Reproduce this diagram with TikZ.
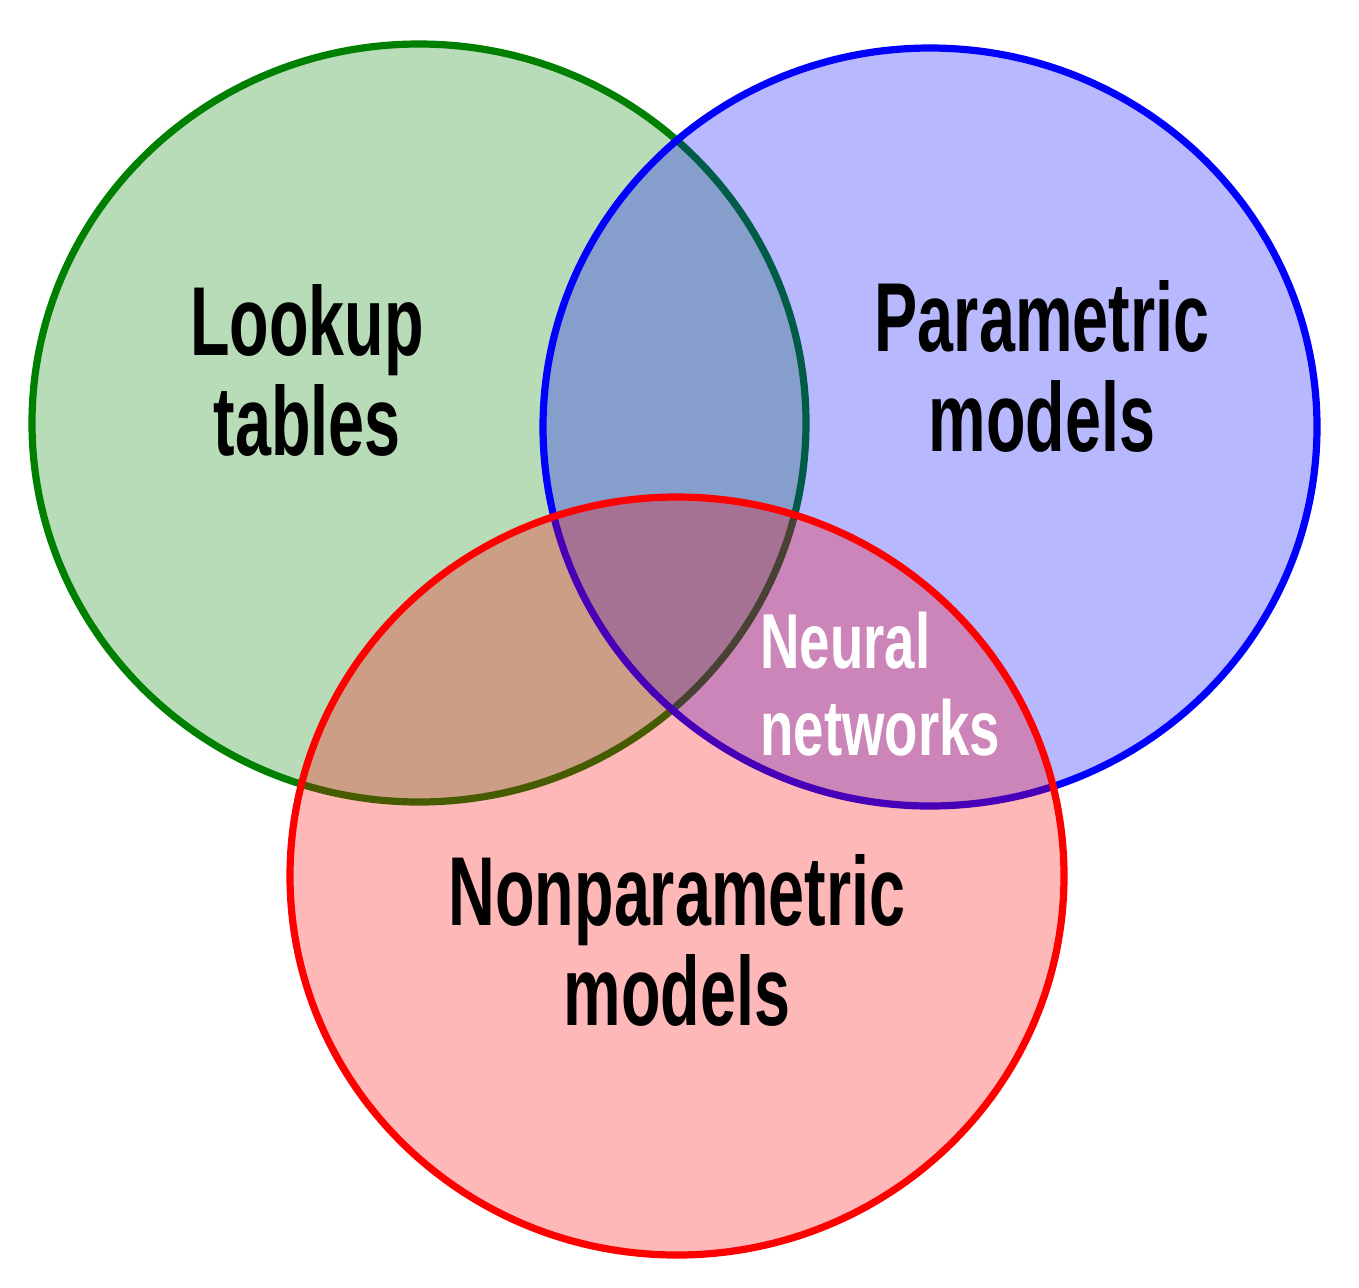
\documentclass[tikz,border=0pt]{standalone}
\usepackage{fontspec}
\newfontfamily\etikettfont{Liberation Sans}[FakeStretch=0.66]
\newfontfamily\kleinfont{Liberation Sans}[FakeStretch=0.70]
\definecolor{gruen}{RGB}{0,128,0}
\definecolor{blau}{RGB}{0,0,255}
\definecolor{rot}{RGB}{255,0,0}
\tikzset{
    kreis/.style={line width=3.6pt, fill=#1, draw=#1, fill opacity=0.28, draw opacity=1},
    etikett/.style={inner sep=0pt, align=center, font=\etikettfont\bfseries\fontsize{49}{50}\selectfont},
    kleinetikett/.style={inner sep=0pt, align=left, text=white, font=\kleinfont\bfseries\fontsize{39}{43.5}\selectfont}
}
\begin{document}
\begin{tikzpicture}[x=0.5pt,y=-0.5pt]
        \def\rx{387}
        \def\ry{379}
        \useasboundingbox (0,0) rectangle (1359,1287);
        \coordinate (links) at (419,423);
        \coordinate (rechts) at (930,427);
        \coordinate (unten) at (677,876);

        % Kreise
        \draw[kreis=gruen] (links) ellipse[x radius=\rx, y radius=\ry];
        \draw[kreis=blau] (rechts) ellipse[x radius=\rx, y radius=\ry];
        \draw[kreis=rot] (unten) ellipse[x radius=\rx, y radius=\ry];

        % Beschriftungen
        \node[etikett] (tabellen) at (307,370) {Lookup\\tables};
        \node[etikett] (parametrisch) at (1042,366) {Parametric\\models};
        \node[etikett] (nichtparametrisch) at (677,940) {Nonparametric\\models};
        \node[kleinetikett, anchor=west] (netze) at (760,684) {Neural\\networks};
\end{tikzpicture}
\end{document}
